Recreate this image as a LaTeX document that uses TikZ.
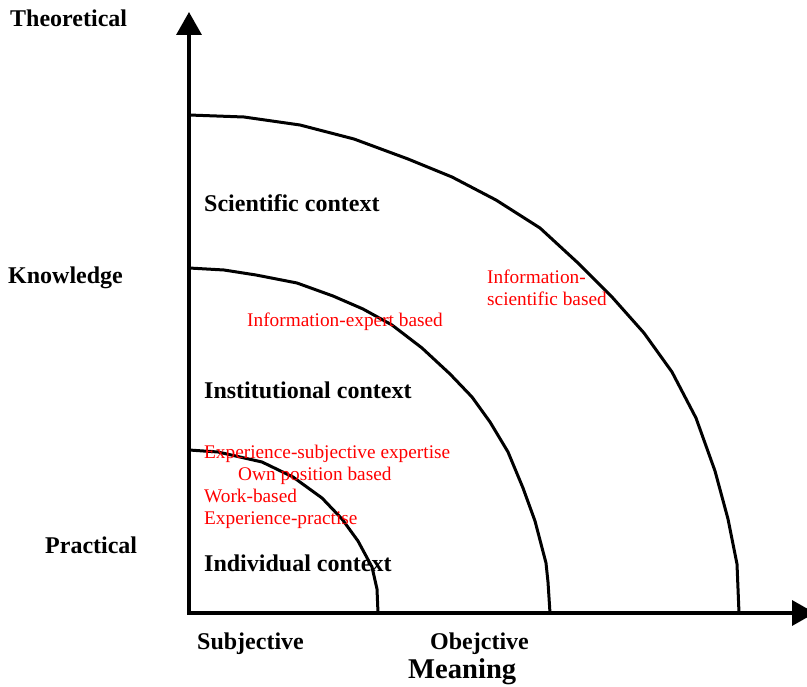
\documentclass[tikz,border=0pt]{standalone}
\usepackage{fontspec}
\setmainfont{Liberation Serif}
\usetikzlibrary{arrows.meta}
\tikzset{
  boldlabel/.style={font=\fontsize{24}{28}\selectfont\bfseries, anchor=base west, inner sep=0pt},
  redlabel/.style={font=\fontsize{19.3}{22}\selectfont, text=red, anchor=base west, inner sep=0pt},
  ring/.style={line width=3pt, line join=round},
}

\begin{document}
\begin{tikzpicture}[x=1pt, y=-1pt, >={Triangle[length=23pt,width=25pt]}]
  \useasboundingbox (0,0) rectangle (807,687);
  \clip (0,0) rectangle (807,687);
  % axes
  \coordinate (O) at (189,613);
  \coordinate (ytip) at (189,12);
  \coordinate (xtip) at (815,613);
  \draw[<->, line width=3.5pt] (ytip) -- (O) -- (xtip);
  % contexts
  \draw[ring] plot coordinates {(189,115) (244,117) (300,125) (354,139) (408,159)
        (452,177) (496,200) (540,228) (578,263) (612,297) (644,333) (672,372)
        (696,418) (715,471) (728,519) (737,564) (739,613)};
  \draw[ring] plot coordinates {(189,268) (224,270) (256,275) (297,283) (333,296)
        (363,309) (392,325) (422,348) (450,374) (472,397) (490,422) (508,452)
        (523,488) (535,521) (546,563) (548,582) (550,613)};
  \draw[ring] plot coordinates {(189,450) (218,452) (262,462) (293,477) (322,498)
        (342,519) (358,541) (372,567) (377,589) (378,613)};
  % axis labels
  \node[boldlabel] (theo) at (10,27) {Theoretical};
  \node[boldlabel] (know) at (8,284) {Knowledge};
  \node[boldlabel] (prac) at (45,553) {Practical};
  \node[boldlabel] (subj) at (197,649) {Subjective};
  \node[boldlabel] (obj) at (430,649) {Obejctive};
  \node[boldlabel, font=\fontsize{28.6}{32}\selectfont\bfseries] (meaning) at (408,678) {Meaning};
  % context labels
  \node[boldlabel] (sci) at (204,212) {Scientific context};
  \node[boldlabel] (inst) at (204,399) {Institutional context};
  \node[boldlabel] (indiv) at (204,571) {Individual context};
  % sources
  \node[redlabel] (infosci) at (487,284) {Information-};
  \node[redlabel] (infosci2) at (487,306) {scientific based};
  \node[redlabel] (infoexp) at (247,327) {Information-expert based};
  \node[redlabel] (expsub) at (204,458) {Experience-subjective expertise};
  \node[redlabel] (ownpos) at (238,480) {Own position based};
  \node[redlabel] (work) at (204,502) {Work-based};
  \node[redlabel] (exppr) at (204,524) {Experience-practise};
\end{tikzpicture}
\end{document}
